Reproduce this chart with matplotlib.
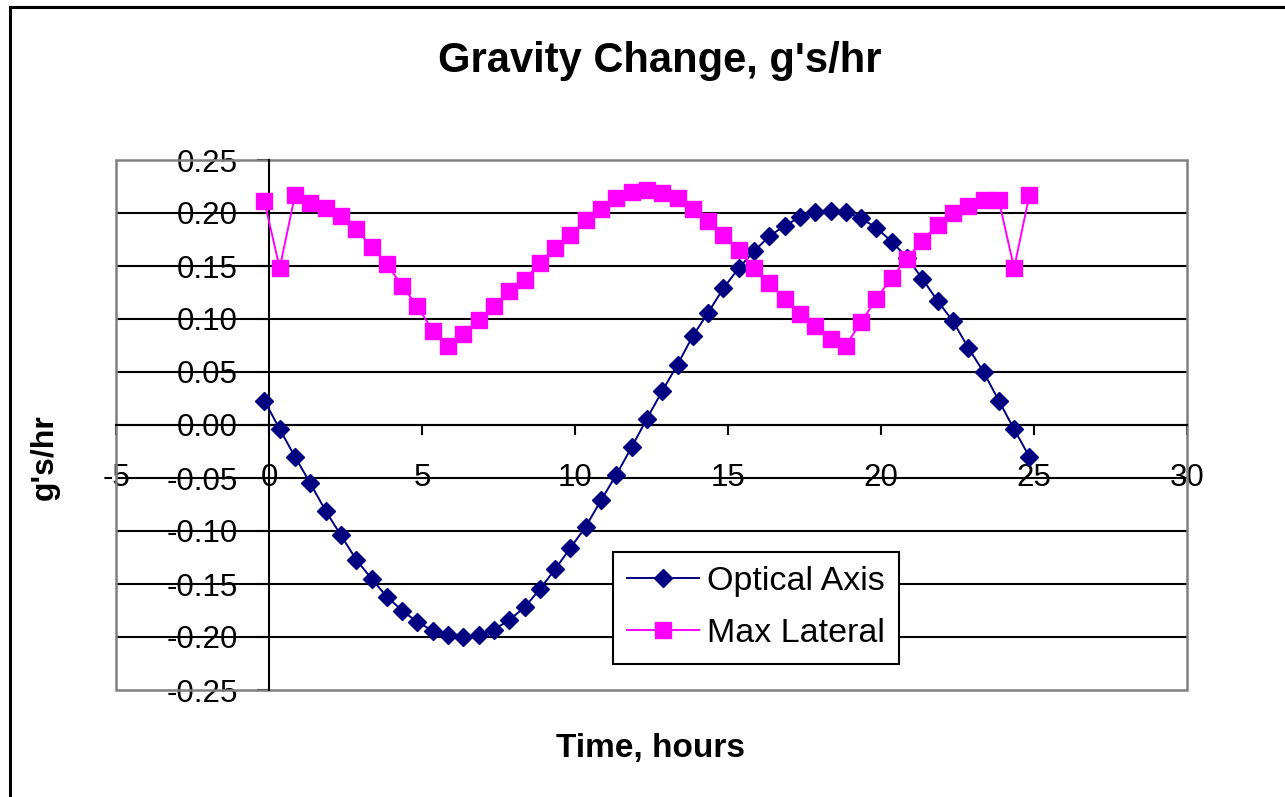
import matplotlib
matplotlib.use("Agg")
import matplotlib.pyplot as plt
from matplotlib.patches import Rectangle
from matplotlib.lines import Line2D
from matplotlib.ticker import FuncFormatter, MultipleLocator

plt.rcParams['font.family'] = ['Liberation Sans', 'DejaVu Sans']

# hours (one reading every half hour)
hours = [-0.15, 0.35, 0.85, 1.35, 1.85, 2.35, 2.85, 3.35, 3.85, 4.35,
         4.85, 5.35, 5.85, 6.35, 6.85, 7.35, 7.85, 8.35, 8.85, 9.35,
         9.85, 10.35, 10.85, 11.35, 11.85, 12.35, 12.85, 13.35, 13.85, 14.35,
         14.85, 15.35, 15.85, 16.35, 16.85, 17.35, 17.85, 18.35, 18.85, 19.35,
         19.85, 20.35, 20.85, 21.35, 21.85, 22.35, 22.85, 23.35, 23.85, 24.35,
         24.85]

optical_axis = [0.023, -0.004, -0.030, -0.055, -0.081, -0.104, -0.127, -0.145, -0.162, -0.175,
                -0.186, -0.194, -0.198, -0.200, -0.198, -0.193, -0.184, -0.172, -0.155, -0.136,
                -0.116, -0.096, -0.071, -0.047, -0.021, 0.006, 0.032, 0.057, 0.084, 0.106,
                0.129, 0.148, 0.164, 0.178, 0.188, 0.196, 0.201, 0.202, 0.201, 0.195,
                0.186, 0.173, 0.158, 0.138, 0.117, 0.098, 0.073, 0.050, 0.023, -0.004,
                -0.030]

max_lateral = [0.211, 0.148, 0.217, 0.209, 0.205, 0.197, 0.185, 0.168, 0.152, 0.131,
               0.112, 0.089, 0.075, 0.086, 0.099, 0.112, 0.126, 0.137, 0.153, 0.167,
               0.179, 0.193, 0.204, 0.214, 0.220, 0.222, 0.219, 0.214, 0.204, 0.192,
               0.179, 0.165, 0.148, 0.134, 0.119, 0.105, 0.093, 0.081, 0.075, 0.097,
               0.119, 0.139, 0.157, 0.174, 0.189, 0.200, 0.207, 0.212, 0.212, 0.148,
               0.217]

W, H = 1285, 797
fig = plt.figure(figsize=(W / 100, H / 100), dpi=100)
fig.patch.set_facecolor('white')

# plot area in pixels: x 116..1187, y 160..690
ax = fig.add_axes([116 / W, 1 - 690 / H, (1187 - 116) / W, (690 - 160) / H])
ax.set_xlim(-5, 30)
ax.set_ylim(-0.25, 0.25)

ax.plot(hours, optical_axis, color='#000080', lw=1.4, marker='D', ms=9,
        mfc='#000080', mec='#000080', label='Optical Axis', zorder=4)
ax.plot(hours, max_lateral, color='#FF00FF', lw=1.4, marker='s', ms=11,
        mfc='#FF00FF', mec='#FF00FF', label='Max Lateral', zorder=5)

# axes cross at zero, like Excel
ax.spines['left'].set_position(('data', 0))
ax.spines['bottom'].set_position(('data', 0))
for s in ['left', 'bottom']:
    ax.spines[s].set_color('black')
    ax.spines[s].set_linewidth(1.5)
    ax.spines[s].set_zorder(3)
ax.spines['top'].set_visible(False)
ax.spines['right'].set_visible(False)
ax.add_patch(Rectangle((0, 0), 1, 1, transform=ax.transAxes, fill=False,
                       edgecolor='#808080', lw=1.8, zorder=2.6, clip_on=False))

ax.xaxis.set_major_locator(MultipleLocator(5))
ax.yaxis.set_major_locator(MultipleLocator(0.05))
ax.yaxis.set_major_formatter(FuncFormatter(lambda v, p: '%.2f' % (0 if abs(v) < 1e-9 else v)))
ax.xaxis.set_major_formatter(FuncFormatter(lambda v, p: '%d' % round(v)))
ax.tick_params(axis='x', direction='out', length=7.2, width=1.5, pad=20, labelsize=22.5)
ax.tick_params(axis='y', direction='out', length=8.6, width=1.5, pad=14, labelsize=22.5)

ax.set_axisbelow(True)
ax.grid(axis='y', color='black', lw=1.5)
for gl, v in zip(ax.yaxis.get_gridlines(), ax.get_yticks()):
    if abs(abs(v) - 0.25) < 1e-6:
        gl.set_visible(False)

leg = ax.legend(loc='upper left', bbox_to_anchor=(613 / W, 1 - 552 / H),
                bbox_transform=fig.transFigure, borderaxespad=0, fontsize=24.5,
                frameon=True, fancybox=False, edgecolor='black', framealpha=1,
                handlelength=2.1, handletextpad=0.25, labelspacing=0.62,
                borderpad=0.42)
leg.get_frame().set_linewidth(1.5)
leg.set_zorder(10)

fig.text(660 / W, 1 - 72 / H, "Gravity Change, g's/hr", ha='center', va='baseline',
         fontsize=30, fontweight='bold')
fig.text(651 / W, 1 - 748 / H, "Time, hours", ha='center', va='center',
         fontsize=24, fontweight='bold')
fig.text(45 / W, 1 - 457 / H, "g's/hr", ha='center', va='center', rotation=90,
         fontsize=23, fontweight='bold')

# outer chart border (left and top visible)
fig.add_artist(Line2D([10 / W, 10 / W], [0, 1 - 7 / H], color='black', lw=2.2,
                      transform=fig.transFigure))
fig.add_artist(Line2D([10 / W, 1], [1 - 7 / H, 1 - 7 / H], color='black', lw=2.2,
                      transform=fig.transFigure))

fig.savefig('out.png', dpi=100)
